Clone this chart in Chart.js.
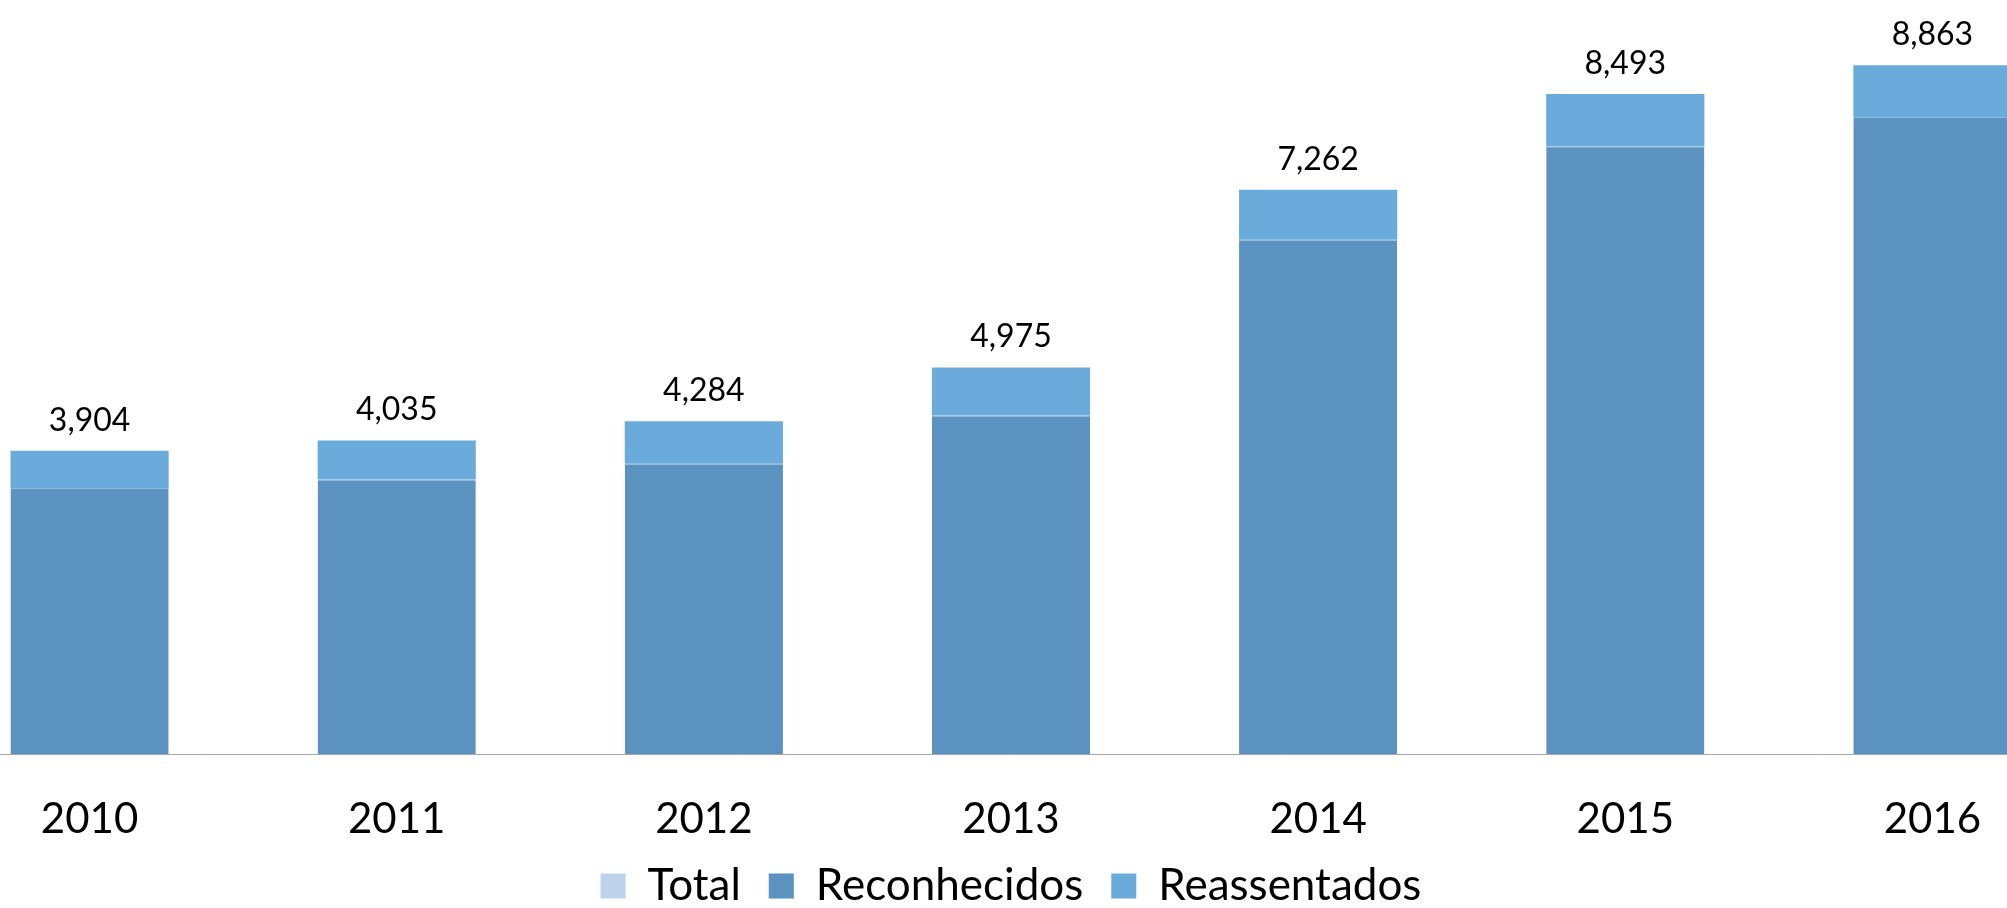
<!DOCTYPE html>
<html>
<head>
<meta charset="utf-8">
<script src="https://cdn.jsdelivr.net/npm/chart.js@4.4.1/dist/chart.umd.min.js"></script>
<style>
  html, body { margin: 0; padding: 0; background: #fff; overflow: hidden; width: 2007px; height: 908px; }
  #wrap { position: absolute; left: -64px; top: -23px; width: 2150px; height: 941px; }
</style>
</head>
<body>
<div id="wrap"><canvas id="barChart"></canvas></div>
<script>
const years = ["2010", "2011", "2012", "2013", "2014", "2015", "2016"];
const reconhecidos = [3425, 3533, 3735, 4357, 6619, 7822, 8199];
const reassentados = [479, 502, 549, 618, 643, 671, 664];
const totals = [3904, 4035, 4284, 4975, 7262, 8493, 8863];

// draws the total above each stacked bar
const totalLabels = {
  id: "totalLabels",
  afterDatasetsDraw(chart) {
    const c = chart.ctx;
    const meta = chart.getDatasetMeta(0);
    c.save();
    c.font = "32px Lato";
    c.fillStyle = "#000";
    c.textAlign = "center";
    c.textBaseline = "alphabetic";
    meta.data.forEach((pt, i) => {
      const y = chart.scales.y.getPixelForValue(totals[i]);
      c.fillText(totals[i].toLocaleString("en-US"), pt.x, y - 20);
    });
    c.restore();
  }
};

let ctx = document.getElementById("barChart").getContext("2d");
let myChart = new Chart(ctx, {
  type: "bar",
  data: {
    labels: years,
    datasets: [
      {
        type: "line",
        label: "Total",
        data: totals,
        stack: "total",
        showLine: false,
        pointRadius: 0,
        pointHoverRadius: 0,
        backgroundColor: "#bcd3eb",
        borderColor: "#bcd3eb",
        borderWidth: 0
      },
      {
        label: "Reconhecidos",
        data: reconhecidos,
        stack: "bars",
        backgroundColor: "#5b92c0",
        borderColor: "#8bb8de",
        borderWidth: { top: 1, left: 0, right: 0, bottom: 0 },
        borderSkipped: false
      },
      {
        label: "Reassentados",
        data: reassentados,
        stack: "bars",
        backgroundColor: "#6aabdc",
        borderWidth: 0
      }
    ]
  },
  options: {
    responsive: true,
    maintainAspectRatio: false,
    animation: false,
    barPercentage: 0.515,
    categoryPercentage: 1,
    layout: { padding: { top: 0, left: 0, right: 0, bottom: 0 } },
    plugins: {
      tooltip: { enabled: false },
      legend: {
        position: "bottom",
        labels: {
          font: { family: "Lato", size: 44, lineHeight: 1 },
          color: "#000",
          boxWidth: 25,
          boxHeight: 25,
          padding: 28
        }
      }
    },
    scales: {
      x: {
        stacked: true,
        grid: { display: false, drawTicks: false },
        border: { display: true, color: "#a6a6a6", width: 1 },
        ticks: { font: { family: "Lato", size: 42 }, color: "#000", padding: 40 },
        afterFit(scale) { scale.height = 82; }
      },
      y: {
        stacked: true,
        display: false,
        min: 0,
        max: 10000
      }
    }
  },
  plugins: [totalLabels]
});
</script>
</body>
</html>
